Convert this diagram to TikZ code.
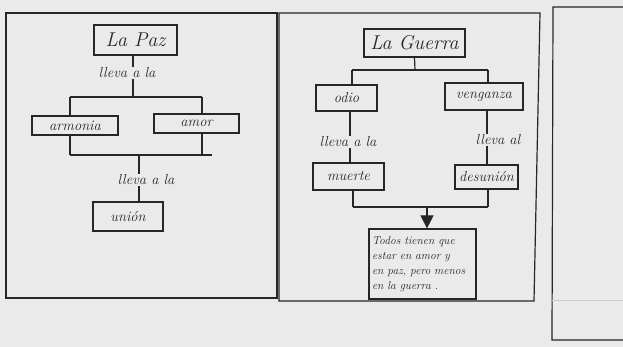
\documentclass[tikz,border=0pt]{standalone}
\usepackage{fontspec}
\setmainfont{Latin Modern Roman}
\usetikzlibrary{arrows.meta}
\definecolor{paper}{HTML}{EAEAEA}
\definecolor{ink}{HTML}{262626}
\definecolor{faint}{HTML}{CCCCCC}
\begin{document}
\begin{tikzpicture}[x=1pt,y=-1pt,
  ink line/.style={draw=ink,line width=1.2pt},
  wordbox/.style={ink line,rectangle,inner sep=0pt,font=\itshape\fontsize{14.5}{17}\selectfont,text=ink},
  titlebox/.style={wordbox,font=\itshape\fontsize{20}{22}\selectfont},
  linklabel/.style={inner sep=1pt,font=\itshape\fontsize{14.5}{17}\selectfont,text=ink},
  notebox/.style={wordbox,font=\itshape\fontsize{11.5}{15}\selectfont,align=left,text width=101pt,inner xsep=3pt,inner ysep=4pt},
  conn/.style={ink line},
  bigarrow/.style={ink line,-{Triangle[width=13pt,length=13pt]}}]
\fill[paper] (0,0) rectangle (623,347);
\useasboundingbox (0,0) rectangle (623,347);
% frames
\draw[ink line] (6,13) rectangle (277,298);
\draw[ink line] (279,13) -- (540,13) -- (534,301) -- (279,301) -- cycle;
\draw[ink line] (623,7) -- (553,7) -- (552,340) -- (623,340);
\draw[faint,line width=0.6pt] (552,300) -- (623,300);
% ---------- La Paz ----------
\node[titlebox,minimum width=83pt,minimum height=30pt] (paz) at (135.5,40) {La Paz};
\node[linklabel] (l1) at (127,73) {lleva a la};
\coordinate (b1) at (133,97);
\coordinate (b1l) at (70,97);
\coordinate (b1r) at (202,97);
\node[wordbox,minimum width=86pt,minimum height=19pt] (armonia) at (75,125.5) {armonia};
\node[wordbox,minimum width=85pt,minimum height=19pt] (amor) at (196.5,123.5) {amor};
\coordinate (b2l) at (70,155);
\coordinate (b2r) at (212,155);
\coordinate (b2) at (139,155);
\node[linklabel] (l2) at (146,180) {lleva a la};
\node[wordbox,minimum width=70pt,minimum height=29pt] (union) at (128,216.5) {unión};
\draw[conn] (b1 |- paz.south) -- (b1 |- l1.north);
\draw[conn] (b1 |- l1.south) -- (b1);
\draw[conn] (b1l) -- (b1r);
\draw[conn] (b1l) -- (b1l |- armonia.north);
\draw[conn] (b1r) -- (b1r |- amor.north);
\draw[conn] (b1l |- armonia.south) -- (b2l);
\draw[conn] (b1r |- amor.south) -- (b1r |- b2l);
\draw[conn] (b2l) -- (b2r);
\draw[conn] (b2) -- (b2 |- l2.north);
\draw[conn] (b2 |- l2.south) -- (b2 |- union.north);
% ---------- La Guerra ----------
\node[titlebox,minimum width=101pt,minimum height=28pt] (guerra) at (414.5,43) {La Guerra};
\coordinate (g1) at (415,70);
\coordinate (g1l) at (352,70);
\coordinate (g1r) at (488,70);
\node[wordbox,minimum width=61pt,minimum height=26pt] (odio) at (346.5,98) {odio};
\node[wordbox,minimum width=78pt,minimum height=27pt] (venganza) at (484,96.5) {venganza};
\node[linklabel] (l3) at (348,142) {lleva a la};
\node[linklabel] (l4) at (498,140) {lleva al};
\coordinate (xo) at (350,0);
\coordinate (xv) at (487,0);
\node[wordbox,minimum width=71pt,minimum height=27pt] (muerte) at (348.5,176.5) {muerte};
\node[wordbox,minimum width=63pt,minimum height=24pt] (desunion) at (486.5,177) {desunión};
\coordinate (g2l) at (353,207);
\coordinate (g2r) at (488,207);
\coordinate (g2) at (427,207);
\node[notebox,minimum height=70pt] (nota) at (422.5,264) {Todos tienen que\\estar en amor y\\en paz, pero menos\\en la guerra .};
\draw[conn] (guerra.south) -- (g1);
\draw[conn] (g1l) -- (g1r);
\draw[conn] (g1l) -- (g1l |- odio.north);
\draw[conn] (g1r) -- (g1r |- venganza.north);
\draw[conn] (xo |- odio.south) -- (xo |- l3.north);
\draw[conn] (xo |- l3.south) -- (xo |- muerte.north);
\draw[conn] (xv |- venganza.south) -- (xv |- l4.north);
\draw[conn] (xv |- l4.south) -- (xv |- desunion.north);
\draw[conn] (g2l |- muerte.south) -- (g2l);
\draw[conn] (g2r |- desunion.south) -- (g2r);
\draw[conn] (g2l) -- (g2r);
\draw[bigarrow] (g2) -- (g2 |- nota.north);
\end{tikzpicture}
\end{document}
